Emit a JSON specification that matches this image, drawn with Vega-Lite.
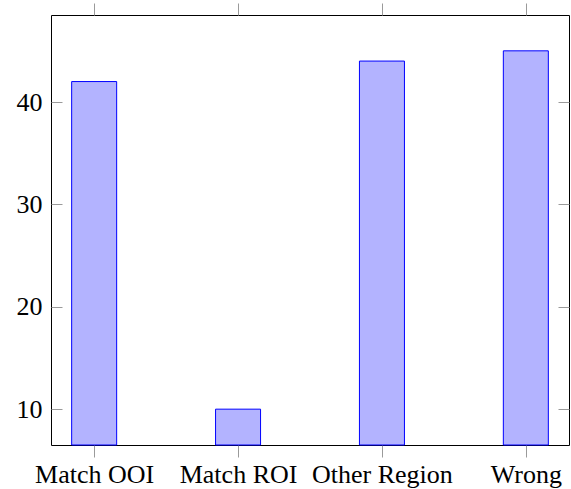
{
  "$schema": "https://vega.github.io/schema/vega-lite/v6.json",
  "width": 518,
  "height": 430,
  "autosize": {"type": "none"},
  "padding": {"left": 51, "top": 15, "right": 2, "bottom": 44},
  "config": {
    "view": {"stroke": "#000000", "strokeWidth": 1},
    "axis": {"grid": false, "domain": false, "title": null, "tickColor": "#9a9a9a", "tickWidth": 1,
             "labelFont": "serif", "labelFontSize": 26, "labelColor": "#000000"}
  },
  "data": {"values": [
    {"cat": "Match OOI", "value": 42},
    {"cat": "Match ROI", "value": 10},
    {"cat": "Other Region", "value": 44},
    {"cat": "Wrong", "value": 45}
  ]},
  "layer": [
    {
      "mark": {"type": "bar", "width": 45, "fill": "#b3b3ff", "stroke": "#0000ff", "strokeWidth": 1},
      "encoding": {
        "x": {"field": "cat", "type": "ordinal", "sort": null,
              "scale": {"type": "point", "padding": 0.3},
              "axis": {"orient": "bottom", "labelAngle": 0, "tickSize": 12, "labelPadding": 4}},
        "y": {"field": "value", "type": "quantitative",
              "scale": {"domain": [6.5, 48.5], "nice": false, "zero": false},
              "axis": {"orient": "left", "values": [10, 20, 30, 40], "tickSize": -11, "labelPadding": 20}},
        "y2": {"datum": 6.5}
      }
    },
    {
      "mark": {"type": "bar", "width": 45, "opacity": 0},
      "encoding": {
        "x": {"field": "cat", "type": "ordinal", "sort": null,
              "axis": {"orient": "top", "labels": false, "tickSize": 12}},
        "y": {"field": "value", "type": "quantitative",
              "axis": {"orient": "right", "labels": false, "values": [10, 20, 30, 40], "tickSize": -11}},
        "y2": {"datum": 6.5}
      }
    }
  ],
  "resolve": {"axis": {"x": "independent", "y": "independent"}}
}
